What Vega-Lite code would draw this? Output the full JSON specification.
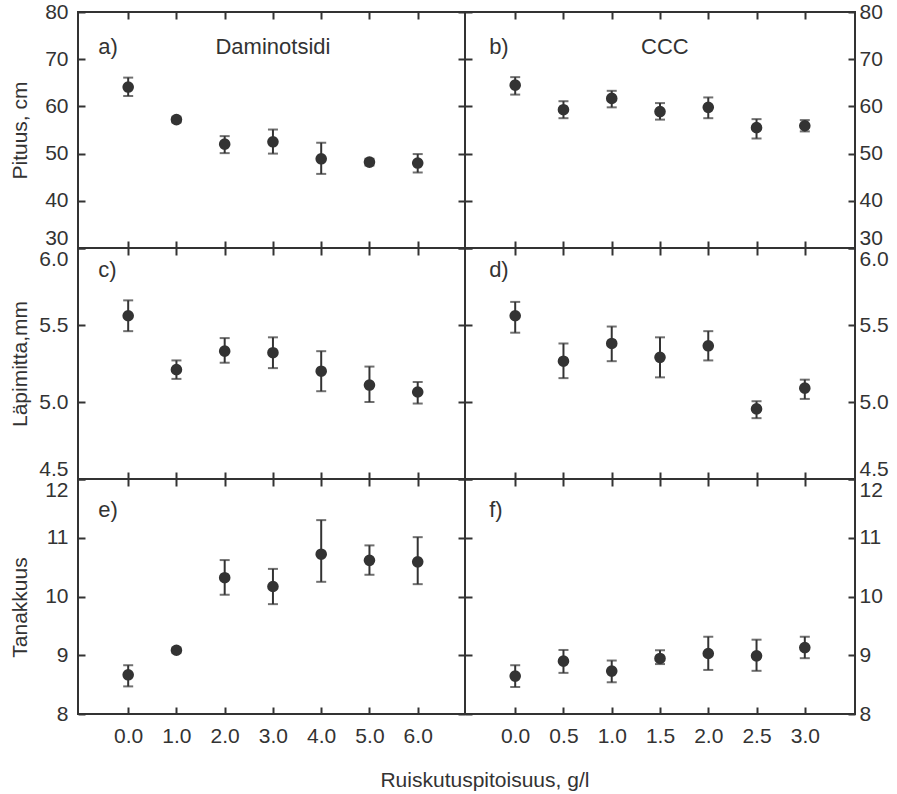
{
  "$schema": "https://vega.github.io/schema/vega-lite/v6.json",
  "background": "white",
  "padding": {"left": 8, "top": 0, "right": 5, "bottom": 5},
  "datasets": {
    "a": [
      {"x": 0, "y": 64.1, "lo": 62.2, "hi": 66.1},
      {"x": 1, "y": 57.2, "lo": 56.6, "hi": 57.8},
      {"x": 2, "y": 52.0, "lo": 50.1, "hi": 53.7},
      {"x": 3, "y": 52.5, "lo": 50.0, "hi": 55.1},
      {"x": 4, "y": 48.9, "lo": 45.7, "hi": 52.3},
      {"x": 5, "y": 48.2, "lo": 47.5, "hi": 48.9},
      {"x": 6, "y": 48.0, "lo": 46.0, "hi": 49.9}
    ],
    "b": [
      {"x": 0, "y": 64.5, "lo": 62.5, "hi": 66.2},
      {"x": 0.5, "y": 59.3, "lo": 57.5, "hi": 61.1},
      {"x": 1, "y": 61.7, "lo": 59.8, "hi": 63.3},
      {"x": 1.5, "y": 58.9, "lo": 57.2, "hi": 60.7},
      {"x": 2, "y": 59.8, "lo": 57.5, "hi": 61.9},
      {"x": 2.5, "y": 55.5, "lo": 53.2, "hi": 57.3},
      {"x": 3, "y": 55.9, "lo": 54.7, "hi": 57.1}
    ],
    "c": [
      {"x": 0, "y": 5.56, "lo": 5.46, "hi": 5.66},
      {"x": 1, "y": 5.21, "lo": 5.15, "hi": 5.27},
      {"x": 2, "y": 5.33, "lo": 5.255, "hi": 5.415},
      {"x": 3, "y": 5.32, "lo": 5.22, "hi": 5.42},
      {"x": 4, "y": 5.2, "lo": 5.07, "hi": 5.33},
      {"x": 5, "y": 5.11, "lo": 5.0, "hi": 5.23},
      {"x": 6, "y": 5.065, "lo": 4.99, "hi": 5.13}
    ],
    "d": [
      {"x": 0, "y": 5.56, "lo": 5.45, "hi": 5.65},
      {"x": 0.5, "y": 5.265, "lo": 5.155, "hi": 5.38},
      {"x": 1, "y": 5.38, "lo": 5.265, "hi": 5.49},
      {"x": 1.5, "y": 5.29, "lo": 5.16, "hi": 5.42},
      {"x": 2, "y": 5.365, "lo": 5.27, "hi": 5.46},
      {"x": 2.5, "y": 4.955, "lo": 4.895, "hi": 5.005},
      {"x": 3, "y": 5.09, "lo": 5.02, "hi": 5.145}
    ],
    "e": [
      {"x": 0, "y": 8.667, "lo": 8.47, "hi": 8.83},
      {"x": 1, "y": 9.085, "lo": 9.04, "hi": 9.13},
      {"x": 2, "y": 10.32, "lo": 10.03, "hi": 10.62},
      {"x": 3, "y": 10.17, "lo": 9.87, "hi": 10.47},
      {"x": 4, "y": 10.72, "lo": 10.25, "hi": 11.3},
      {"x": 5, "y": 10.615, "lo": 10.37, "hi": 10.87},
      {"x": 6, "y": 10.59, "lo": 10.21, "hi": 11.01}
    ],
    "f": [
      {"x": 0, "y": 8.645, "lo": 8.46, "hi": 8.83},
      {"x": 0.5, "y": 8.9, "lo": 8.7, "hi": 9.09},
      {"x": 1, "y": 8.73, "lo": 8.54, "hi": 8.91},
      {"x": 1.5, "y": 8.945, "lo": 8.85, "hi": 9.085},
      {"x": 2, "y": 9.03, "lo": 8.75, "hi": 9.315},
      {"x": 2.5, "y": 8.99, "lo": 8.735, "hi": 9.265},
      {"x": 3, "y": 9.13, "lo": 8.95, "hi": 9.315}
    ]
  },
  "title": {
    "text": "Ruiskutuspitoisuus, g/l",
    "orient": "bottom",
    "anchor": "middle",
    "font": "Liberation Sans",
    "fontSize": 21,
    "fontWeight": "normal",
    "color": "#333333",
    "offset": 22,
    "dx": 36
  },
  "columns": 2,
  "spacing": 0,
  "bounds": "flush",
  "concat": [
    {
      "width": 387, "height": 236,
      "layer": [
        {
          "data": {"name": "a"},
          "mark": {"type": "rule", "color": "#333333", "strokeWidth": 2},
          "encoding": {
            "x": {"field": "x", "type": "quantitative", "scale": {"domain": [-1.04, 6.98], "nice": false, "zero": false},
                  "axis": {"orient": "bottom", "values": [0, 1, 2, 3, 4, 5, 6], "labels": false, "title": null}},
            "y": {"field": "lo", "type": "quantitative", "scale": {"domain": [30, 80], "nice": false, "zero": false},
                  "axis": {"orient": "left", "values": [30, 40, 50, 60, 70, 80], "title": "Pituus, cm", "titlePadding": 14,
                           "labelBaseline": {"condition": {"test": "datum.value == 30", "value": "bottom"}, "value": "middle"}}},
            "y2": {"field": "hi"}
          }
        },
        {
          "data": {"name": "a"},
          "mark": {"type": "tick", "orient": "horizontal", "size": 10, "thickness": 2, "color": "#333333"},
          "encoding": {"x": {"field": "x", "type": "quantitative", "axis": null}, "y": {"field": "lo", "type": "quantitative", "axis": null}}
        },
        {
          "data": {"name": "a"},
          "mark": {"type": "tick", "orient": "horizontal", "size": 10, "thickness": 2, "color": "#333333"},
          "encoding": {"x": {"field": "x", "type": "quantitative", "axis": null}, "y": {"field": "hi", "type": "quantitative", "axis": null}}
        },
        {
          "data": {"values": [{}]},
          "mark": {"type": "text", "align": "left", "baseline": "middle", "font": "Liberation Sans", "fontSize": 22, "color": "#333333"},
          "encoding": {"x": {"datum": -0.62, "axis": null}, "y": {"datum": 72.5, "axis": null}, "text": {"value": "a)"}}
        },
        {
          "data": {"values": [{}]},
          "mark": {"type": "text", "align": "center", "baseline": "middle", "font": "Liberation Sans", "fontSize": 22, "color": "#333333"},
          "encoding": {"x": {"datum": 3.0, "axis": null}, "y": {"datum": 72.5, "axis": null}, "text": {"value": "Daminotsidi"}}
        },
        {
          "data": {"name": "a"},
          "mark": {"type": "circle", "size": 135, "opacity": 1, "color": "#333333"},
          "encoding": {
            "x": {"field": "x", "type": "quantitative", "axis": {"orient": "top", "values": [0, 1, 2, 3, 4, 5, 6], "labels": false, "title": null}},
            "y": {"field": "y", "type": "quantitative", "axis": {"orient": "right", "values": [30, 40, 50, 60, 70, 80], "labels": false, "title": null}}
          }
        }
      ],
      "resolve": {"axis": {"x": "independent", "y": "independent"}}
    },
    {
      "width": 390, "height": 236,
      "layer": [
        {
          "data": {"name": "b"},
          "mark": {"type": "rule", "color": "#333333", "strokeWidth": 2},
          "encoding": {
            "x": {"field": "x", "type": "quantitative", "scale": {"domain": [-0.52, 3.52], "nice": false, "zero": false},
                  "axis": {"orient": "bottom", "values": [0, 0.5, 1, 1.5, 2, 2.5, 3], "labels": false, "title": null}},
            "y": {"field": "lo", "type": "quantitative", "scale": {"domain": [30, 80], "nice": false, "zero": false},
                  "axis": {"orient": "right", "values": [30, 40, 50, 60, 70, 80], "title": null,
                           "labelBaseline": {"condition": {"test": "datum.value == 30", "value": "bottom"}, "value": "middle"}}},
            "y2": {"field": "hi"}
          }
        },
        {
          "data": {"name": "b"},
          "mark": {"type": "tick", "orient": "horizontal", "size": 10, "thickness": 2, "color": "#333333"},
          "encoding": {"x": {"field": "x", "type": "quantitative", "axis": null}, "y": {"field": "lo", "type": "quantitative", "axis": null}}
        },
        {
          "data": {"name": "b"},
          "mark": {"type": "tick", "orient": "horizontal", "size": 10, "thickness": 2, "color": "#333333"},
          "encoding": {"x": {"field": "x", "type": "quantitative", "axis": null}, "y": {"field": "hi", "type": "quantitative", "axis": null}}
        },
        {
          "data": {"values": [{}]},
          "mark": {"type": "text", "align": "left", "baseline": "middle", "font": "Liberation Sans", "fontSize": 22, "color": "#333333"},
          "encoding": {"x": {"datum": -0.27, "axis": null}, "y": {"datum": 72.5, "axis": null}, "text": {"value": "b)"}}
        },
        {
          "data": {"values": [{}]},
          "mark": {"type": "text", "align": "center", "baseline": "middle", "font": "Liberation Sans", "fontSize": 22, "color": "#333333"},
          "encoding": {"x": {"datum": 1.55, "axis": null}, "y": {"datum": 72.5, "axis": null}, "text": {"value": "CCC"}}
        },
        {
          "data": {"name": "b"},
          "mark": {"type": "circle", "size": 135, "opacity": 1, "color": "#333333"},
          "encoding": {
            "x": {"field": "x", "type": "quantitative", "axis": {"orient": "top", "values": [0, 0.5, 1, 1.5, 2, 2.5, 3], "labels": false, "title": null}},
            "y": {"field": "y", "type": "quantitative", "axis": {"orient": "left", "values": [30, 40, 50, 60, 70, 80], "labels": false, "title": null}}
          }
        }
      ],
      "resolve": {"axis": {"x": "independent", "y": "independent"}}
    },
    {
      "width": 387, "height": 231,
      "layer": [
        {
          "data": {"name": "c"},
          "mark": {"type": "rule", "color": "#333333", "strokeWidth": 2},
          "encoding": {
            "x": {"field": "x", "type": "quantitative", "scale": {"domain": [-1.04, 6.98], "nice": false, "zero": false},
                  "axis": {"orient": "bottom", "values": [0, 1, 2, 3, 4, 5, 6], "labels": false, "title": null}},
            "y": {"field": "lo", "type": "quantitative", "scale": {"domain": [4.5, 6.0], "nice": false, "zero": false},
                  "axis": {"orient": "left", "values": [4.5, 5.0, 5.5, 6.0], "format": ".1f", "title": "Läpimitta,mm", "titlePadding": 8, "labelFlush": true}},
            "y2": {"field": "hi"}
          }
        },
        {
          "data": {"name": "c"},
          "mark": {"type": "tick", "orient": "horizontal", "size": 10, "thickness": 2, "color": "#333333"},
          "encoding": {"x": {"field": "x", "type": "quantitative", "axis": null}, "y": {"field": "lo", "type": "quantitative", "axis": null}}
        },
        {
          "data": {"name": "c"},
          "mark": {"type": "tick", "orient": "horizontal", "size": 10, "thickness": 2, "color": "#333333"},
          "encoding": {"x": {"field": "x", "type": "quantitative", "axis": null}, "y": {"field": "hi", "type": "quantitative", "axis": null}}
        },
        {
          "data": {"values": [{}]},
          "mark": {"type": "text", "align": "left", "baseline": "middle", "font": "Liberation Sans", "fontSize": 22, "color": "#333333"},
          "encoding": {"x": {"datum": -0.62, "axis": null}, "y": {"datum": 5.86, "axis": null}, "text": {"value": "c)"}}
        },
        {
          "data": {"name": "c"},
          "mark": {"type": "circle", "size": 135, "opacity": 1, "color": "#333333"},
          "encoding": {
            "x": {"field": "x", "type": "quantitative", "axis": {"orient": "top", "values": [0, 1, 2, 3, 4, 5, 6], "labels": false, "title": null}},
            "y": {"field": "y", "type": "quantitative", "axis": {"orient": "right", "values": [4.5, 5.0, 5.5, 6.0], "labels": false, "title": null}}
          }
        }
      ],
      "resolve": {"axis": {"x": "independent", "y": "independent"}}
    },
    {
      "width": 390, "height": 231,
      "layer": [
        {
          "data": {"name": "d"},
          "mark": {"type": "rule", "color": "#333333", "strokeWidth": 2},
          "encoding": {
            "x": {"field": "x", "type": "quantitative", "scale": {"domain": [-0.52, 3.52], "nice": false, "zero": false},
                  "axis": {"orient": "bottom", "values": [0, 0.5, 1, 1.5, 2, 2.5, 3], "labels": false, "title": null}},
            "y": {"field": "lo", "type": "quantitative", "scale": {"domain": [4.5, 6.0], "nice": false, "zero": false},
                  "axis": {"orient": "right", "values": [4.5, 5.0, 5.5, 6.0], "format": ".1f", "title": null, "labelFlush": true}},
            "y2": {"field": "hi"}
          }
        },
        {
          "data": {"name": "d"},
          "mark": {"type": "tick", "orient": "horizontal", "size": 10, "thickness": 2, "color": "#333333"},
          "encoding": {"x": {"field": "x", "type": "quantitative", "axis": null}, "y": {"field": "lo", "type": "quantitative", "axis": null}}
        },
        {
          "data": {"name": "d"},
          "mark": {"type": "tick", "orient": "horizontal", "size": 10, "thickness": 2, "color": "#333333"},
          "encoding": {"x": {"field": "x", "type": "quantitative", "axis": null}, "y": {"field": "hi", "type": "quantitative", "axis": null}}
        },
        {
          "data": {"values": [{}]},
          "mark": {"type": "text", "align": "left", "baseline": "middle", "font": "Liberation Sans", "fontSize": 22, "color": "#333333"},
          "encoding": {"x": {"datum": -0.27, "axis": null}, "y": {"datum": 5.86, "axis": null}, "text": {"value": "d)"}}
        },
        {
          "data": {"name": "d"},
          "mark": {"type": "circle", "size": 135, "opacity": 1, "color": "#333333"},
          "encoding": {
            "x": {"field": "x", "type": "quantitative", "axis": {"orient": "top", "values": [0, 0.5, 1, 1.5, 2, 2.5, 3], "labels": false, "title": null}},
            "y": {"field": "y", "type": "quantitative", "axis": {"orient": "left", "values": [4.5, 5.0, 5.5, 6.0], "labels": false, "title": null}}
          }
        }
      ],
      "resolve": {"axis": {"x": "independent", "y": "independent"}}
    },
    {
      "width": 387, "height": 235,
      "layer": [
        {
          "data": {"name": "e"},
          "mark": {"type": "rule", "color": "#333333", "strokeWidth": 2},
          "encoding": {
            "x": {"field": "x", "type": "quantitative", "scale": {"domain": [-1.04, 6.98], "nice": false, "zero": false},
                  "axis": {"orient": "bottom", "values": [0, 1, 2, 3, 4, 5, 6], "format": ".1f", "title": null}},
            "y": {"field": "lo", "type": "quantitative", "scale": {"domain": [8, 12], "nice": false, "zero": false},
                  "axis": {"orient": "left", "values": [8, 9, 10, 11, 12], "title": "Tanakkuus", "titlePadding": 14, "titleY": 128,
                           "labelBaseline": {"condition": {"test": "datum.value == 12", "value": "top"}, "value": "middle"}}},
            "y2": {"field": "hi"}
          }
        },
        {
          "data": {"name": "e"},
          "mark": {"type": "tick", "orient": "horizontal", "size": 10, "thickness": 2, "color": "#333333"},
          "encoding": {"x": {"field": "x", "type": "quantitative", "axis": null}, "y": {"field": "lo", "type": "quantitative", "axis": null}}
        },
        {
          "data": {"name": "e"},
          "mark": {"type": "tick", "orient": "horizontal", "size": 10, "thickness": 2, "color": "#333333"},
          "encoding": {"x": {"field": "x", "type": "quantitative", "axis": null}, "y": {"field": "hi", "type": "quantitative", "axis": null}}
        },
        {
          "data": {"values": [{}]},
          "mark": {"type": "text", "align": "left", "baseline": "middle", "font": "Liberation Sans", "fontSize": 22, "color": "#333333"},
          "encoding": {"x": {"datum": -0.62, "axis": null}, "y": {"datum": 11.47, "axis": null}, "text": {"value": "e)"}}
        },
        {
          "data": {"name": "e"},
          "mark": {"type": "circle", "size": 135, "opacity": 1, "color": "#333333"},
          "encoding": {
            "x": {"field": "x", "type": "quantitative", "axis": {"orient": "top", "values": [0, 1, 2, 3, 4, 5, 6], "labels": false, "title": null}},
            "y": {"field": "y", "type": "quantitative", "axis": {"orient": "right", "values": [8, 9, 10, 11, 12], "labels": false, "title": null}}
          }
        }
      ],
      "resolve": {"axis": {"x": "independent", "y": "independent"}}
    },
    {
      "width": 390, "height": 235,
      "layer": [
        {
          "data": {"name": "f"},
          "mark": {"type": "rule", "color": "#333333", "strokeWidth": 2},
          "encoding": {
            "x": {"field": "x", "type": "quantitative", "scale": {"domain": [-0.52, 3.52], "nice": false, "zero": false},
                  "axis": {"orient": "bottom", "values": [0, 0.5, 1, 1.5, 2, 2.5, 3], "format": ".1f", "title": null}},
            "y": {"field": "lo", "type": "quantitative", "scale": {"domain": [8, 12], "nice": false, "zero": false},
                  "axis": {"orient": "right", "values": [8, 9, 10, 11, 12], "title": null,
                           "labelBaseline": {"condition": {"test": "datum.value == 12", "value": "top"}, "value": "middle"}}},
            "y2": {"field": "hi"}
          }
        },
        {
          "data": {"name": "f"},
          "mark": {"type": "tick", "orient": "horizontal", "size": 10, "thickness": 2, "color": "#333333"},
          "encoding": {"x": {"field": "x", "type": "quantitative", "axis": null}, "y": {"field": "lo", "type": "quantitative", "axis": null}}
        },
        {
          "data": {"name": "f"},
          "mark": {"type": "tick", "orient": "horizontal", "size": 10, "thickness": 2, "color": "#333333"},
          "encoding": {"x": {"field": "x", "type": "quantitative", "axis": null}, "y": {"field": "hi", "type": "quantitative", "axis": null}}
        },
        {
          "data": {"values": [{}]},
          "mark": {"type": "text", "align": "left", "baseline": "middle", "font": "Liberation Sans", "fontSize": 22, "color": "#333333"},
          "encoding": {"x": {"datum": -0.27, "axis": null}, "y": {"datum": 11.47, "axis": null}, "text": {"value": "f)"}}
        },
        {
          "data": {"name": "f"},
          "mark": {"type": "circle", "size": 135, "opacity": 1, "color": "#333333"},
          "encoding": {
            "x": {"field": "x", "type": "quantitative", "axis": {"orient": "top", "values": [0, 0.5, 1, 1.5, 2, 2.5, 3], "labels": false, "title": null}},
            "y": {"field": "y", "type": "quantitative", "axis": {"orient": "left", "values": [8, 9, 10, 11, 12], "labels": false, "title": null}}
          }
        }
      ],
      "resolve": {"axis": {"x": "independent", "y": "independent"}}
    }
  ],
  "config": {
    "view": {"stroke": "#333333", "strokeWidth": 2},
    "font": "Liberation Sans",
    "axis": {
      "domain": false,
      "grid": false,
      "tickSize": -7,
      "tickWidth": 2,
      "tickColor": "#333333",
      "labelFlush": false,
      "labelOverlap": false,
      "labelFont": "Liberation Sans",
      "labelFontSize": 21,
      "labelColor": "#333333",
      "titleFont": "Liberation Sans",
      "titleFontSize": 21,
      "titleFontWeight": "normal",
      "titleColor": "#333333"
    },
    "axisBottom": {"labelPadding": 18.5},
    "axisLeft": {"labelPadding": 17},
    "axisRight": {"labelPadding": 11}
  }
}
